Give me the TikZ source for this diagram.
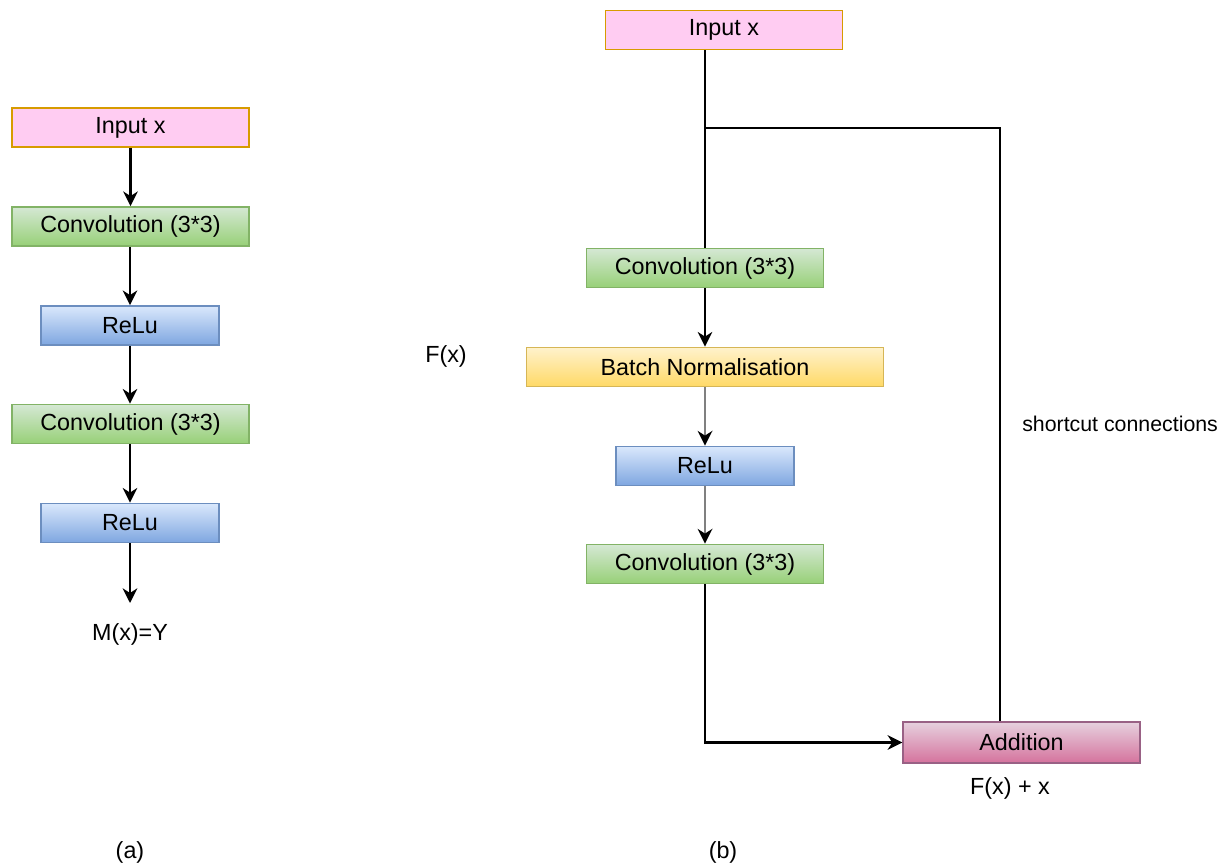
\documentclass[tikz,border=0pt]{standalone}
\usepackage{fontspec}
\setmainfont{Liberation Sans}
\usetikzlibrary{arrows.meta}

\definecolor{pinkfill}{HTML}{FFCCF2}
\definecolor{pinkline}{HTML}{D79B00}
\definecolor{greentop}{HTML}{D5E8D4}
\definecolor{greenbot}{HTML}{97D077}
\definecolor{greenline}{HTML}{82B366}
\definecolor{bluetop}{HTML}{DAE8FC}
\definecolor{bluebot}{HTML}{7EA6E0}
\definecolor{blueline}{HTML}{6C8EBF}
\definecolor{yellowtop}{HTML}{FFF2CC}
\definecolor{yellowbot}{HTML}{FFD966}
\definecolor{yellowline}{HTML}{D6B656}
\definecolor{addtop}{HTML}{E6D0DE}
\definecolor{addbot}{HTML}{D5739D}
\definecolor{addline}{HTML}{996185}
\definecolor{flowgray}{HTML}{808080}

\tikzset{
  box/.style={draw, line width=1.1pt, inner sep=0pt, minimum height=29.5pt,
    font=\fontsize{17.5}{21}\selectfont},
  inputbox/.style={box, fill=pinkfill, draw=pinkline, minimum width=178pt},
  convbox/.style={box, top color=greentop, bottom color=greenbot, draw=greenline, minimum width=178pt},
  relubox/.style={box, top color=bluetop, bottom color=bluebot, draw=blueline, minimum width=133.5pt},
  normbox/.style={box, top color=yellowtop, bottom color=yellowbot, draw=yellowline, minimum width=267.75pt},
  addbox/.style={box, top color=addtop, bottom color=addbot, draw=addline, minimum width=177.75pt, minimum height=30.5pt},
  label/.style={inner sep=0pt, font=\fontsize{17.5}{21}\selectfont},
  small/.style={inner sep=0pt, font=\fontsize{16}{19}\selectfont},
  flow/.style={line width=1.6pt, -{Stealth[length=11pt, width=11pt, inset=3.5pt]}},
  plain/.style={line width=1.6pt},
  grayflow/.style={line width=1.8pt, draw=flowgray,
    -{Stealth[length=11pt, width=11pt, inset=3.5pt, color=black]}}
}

\begin{document}
\begin{tikzpicture}[x=0.75pt, y=-0.75pt]
\useasboundingbox (0,0) rectangle (1224,863);

% (a) plain stack
\node[inputbox] (inA)    at (130.5,127.5) {Input x};
\node[convbox]  (convA1) at (130.5,226.5) {Convolution (3*3)};
\node[relubox]  (reluA1) at (130,325.5)   {ReLu};
\node[convbox]  (convA2) at (130.5,424)   {Convolution (3*3)};
\node[relubox]  (reluA2) at (130,523)     {ReLu};
\coordinate (outA) at (130,603);
\node[label] (resA) at (130,634) {M(x)=Y};
\node[label] (capA) at (130,852) {(a)};

\draw[flow] (inA.south -| convA1.north) -- (convA1.north);
\draw[flow] (convA1.south -| reluA1.north) -- (reluA1.north);
\draw[flow] (reluA1.south) -- (reluA1.south |- convA2.north);
\draw[flow] (convA2.south -| reluA2.north) -- (reluA2.north);
\draw[flow] (reluA2.south) -- (outA);

% (b) residual block
\node[inputbox] (inB)    at (724,30)      {Input x};
\node[convbox]  (convB1) at (705,268)     {Convolution (3*3)};
\node[normbox]  (bn)     at (705,367)     {Batch Normalisation};
\node[relubox]  (reluB)  at (705,466)     {ReLu};
\node[convbox]  (convB2) at (705,564)     {Convolution (3*3)};
\node[addbox]   (add)    at (1021.5,742.5) {Addition};

\node[label] (fx)    at (446,356)  {F(x)};
\node[small, anchor=west] (sc) at (1022,424) {shortcut connections};
\node[label] (sum)   at (1010,788) {F(x) + x};
\node[label] (capB)  at (723,852)  {(b)};

\coordinate (split) at (705,128);
\coordinate (turn)  at (1000,128);

\draw[plain] (inB.south -| convB1.north) -- (convB1.north);
\draw[plain] (split) -- (turn) -- (turn |- add.north);
\draw[flow] (convB1.south) -- (bn.north);
\draw[grayflow] (bn.south) -- (reluB.north);
\draw[grayflow] (reluB.south) -- (convB2.north);
\draw[flow] (convB2.south) |- (add.west);
\end{tikzpicture}
\end{document}
